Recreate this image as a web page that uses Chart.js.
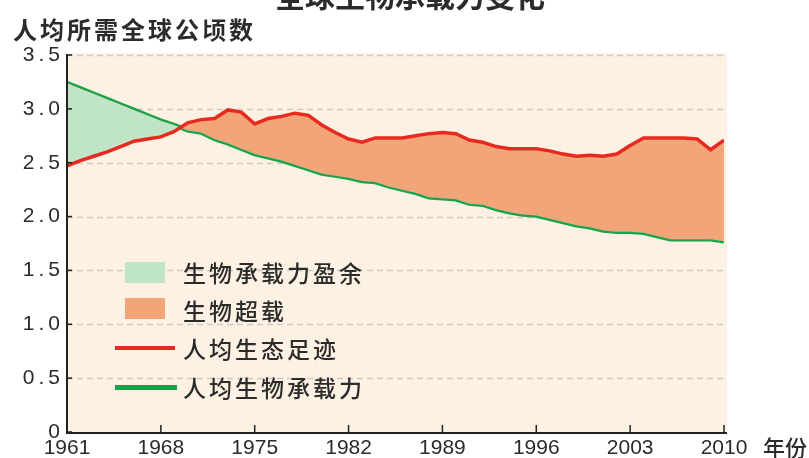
<!DOCTYPE html>
<html>
<head>
<meta charset="utf-8">
<script src="https://cdn.jsdelivr.net/npm/chart.js"></script>
<style>
  body { margin: 0; background: #fff; }
  #wrap { position: relative; width: 809px; height: 458px; overflow: hidden; }
  .t { position: absolute; font-family: "Noto Sans CJK SC", sans-serif; color: #2b2b2b; white-space: nowrap; }
  .sw { position: absolute; }
</style>
</head>
<body>
<div id="wrap">
  <canvas id="myChart" width="809" height="458"></canvas>
  <div class="t" style="left:0;width:820px;text-align:center;top:-24px;font-size:30px;font-weight:bold;line-height:36px;">全球生物承载力变化</div>
  <div class="t" style="left:13px;top:13px;font-size:24px;font-weight:bold;letter-spacing:3px;line-height:32px;">人均所需全球公顷数</div>
  <div class="t" style="left:763px;top:431px;font-size:22px;font-weight:500;line-height:30px;">年份</div>

  <div class="sw" style="left:125px;top:262px;width:40px;height:21px;background:#bfe5c6;"></div>
  <div class="t" style="left:183px;top:256px;font-size:23px;font-weight:500;line-height:32px;letter-spacing:3px;">生物承载力盈余</div>
  <div class="sw" style="left:125px;top:298px;width:40px;height:21px;background:#f3a57a;"></div>
  <div class="t" style="left:183px;top:294px;font-size:23px;font-weight:500;line-height:32px;letter-spacing:3px;">生物超载</div>
  <div class="sw" style="left:115px;top:346px;width:60px;height:4px;background:#e8291f;"></div>
  <div class="t" style="left:183px;top:332px;font-size:23px;font-weight:500;line-height:32px;letter-spacing:3px;">人均生态足迹</div>
  <div class="sw" style="left:115px;top:385px;width:62px;height:5px;background:#19a247;"></div>
  <div class="t" style="left:183px;top:371px;font-size:23px;font-weight:500;line-height:32px;letter-spacing:3px;">人均生物承载力</div>
</div>
<script>
// years 1961 - 2010
const years = Array.from({length: 50}, (_, i) => 1961 + i)

// 人均生态足迹 (global hectares per person)
const footprint = [
  2.47, 2.52, 2.56, 2.60, 2.65, 2.70, 2.72, 2.74, 2.79, 2.87,
  2.90, 2.91, 2.99, 2.97, 2.86, 2.91, 2.93, 2.96, 2.94, 2.85,
  2.78, 2.72, 2.69, 2.73, 2.73, 2.73, 2.75, 2.77, 2.78, 2.77,
  2.71, 2.69, 2.65, 2.63, 2.63, 2.63, 2.61, 2.58, 2.56, 2.57,
  2.56, 2.58, 2.66, 2.73, 2.73, 2.73, 2.73, 2.72, 2.62, 2.71
]

// 人均生物承载力
const biocapacity = [
  3.24, 3.19, 3.14, 3.09, 3.04, 2.99, 2.94, 2.89, 2.85, 2.80,
  2.78, 2.72, 2.68, 2.63, 2.58, 2.55, 2.52, 2.48, 2.44, 2.40,
  2.38, 2.36, 2.33, 2.32, 2.28, 2.25, 2.22, 2.18, 2.17, 2.16,
  2.12, 2.11, 2.07, 2.04, 2.02, 2.01, 1.98, 1.95, 1.92, 1.90,
  1.87, 1.86, 1.86, 1.85, 1.82, 1.79, 1.79, 1.79, 1.79, 1.77
]

const yTicks = [0, 0.5, 1.0, 1.5, 2.0, 2.5, 3.0, 3.5]
const xTicks = [1961, 1968, 1975, 1982, 1989, 1996, 2003, 2010]

const toPoints = (vals) => vals.map((v, i) => ({x: years[i], y: v}))

// cream plot background, dashed grid, axis lines and inward tick marks
const frame = {
  id: 'frame',
  beforeDraw: (chart) => {
    const ctx = chart.ctx
    const a = chart.chartArea
    const ys = chart.scales.y
    ctx.save()
    ctx.fillStyle = '#fcf1e2'
    ctx.fillRect(a.left, a.top - 2, a.right - a.left + 3, a.bottom - a.top + 2)
    ctx.strokeStyle = '#cfc9c1'
    ctx.lineWidth = 1.5
    ctx.setLineDash([6, 4])
    yTicks.forEach(v => {
      if (v === 0) return
      const y = Math.round(ys.getPixelForValue(v)) + 0.5
      ctx.beginPath()
      ctx.moveTo(a.left, y)
      ctx.lineTo(a.right, y)
      ctx.stroke()
    })
    ctx.restore()
  },
  afterDatasetsDraw: (chart) => {
    const ctx = chart.ctx
    const a = chart.chartArea
    const xs = chart.scales.x
    const ys = chart.scales.y
    ctx.save()
    ctx.strokeStyle = '#222'
    ctx.lineWidth = 2
    ctx.beginPath()
    ctx.moveTo(a.left, a.top - 1)
    ctx.lineTo(a.left, a.bottom + 1)
    ctx.lineTo(a.right + 3, a.bottom + 1)
    ctx.stroke()
    ctx.lineWidth = 1.5
    yTicks.forEach(v => {
      const y = ys.getPixelForValue(v)
      ctx.beginPath()
      ctx.moveTo(a.left, y)
      ctx.lineTo(a.left + 5, y)
      ctx.stroke()
    })
    xTicks.forEach(v => {
      const x = xs.getPixelForValue(v)
      ctx.beginPath()
      ctx.moveTo(x, a.bottom)
      ctx.lineTo(x, a.bottom - 7)
      ctx.stroke()
    })
    ctx.restore()
    // wide spacing for the y tick labels (drawn after datasets, z: 1)
    ctx.letterSpacing = '4px'
  },
  afterDraw: (chart) => {
    chart.ctx.letterSpacing = '0px'
  }
}

const data = {
  datasets: [{
    label: '人均生态足迹',
    data: toPoints(footprint),
    borderColor: '#e8291f',
    borderWidth: 3.5,
    pointRadius: 0,
    tension: 0,
    fill: {
      target: 1,
      above: '#f3a57a',
      below: '#bfe5c6'
    }
  }, {
    label: '人均生物承载力',
    data: toPoints(biocapacity),
    borderColor: '#19a247',
    borderWidth: 4.5,
    pointRadius: 0,
    tension: 0,
    fill: false
  }]
}

const config = {
  type: 'line',
  data,
  options: {
    responsive: false,
    animation: false,
    layout: {
      padding: {top: 55, right: 85, bottom: 0, left: 0}
    },
    plugins: {
      legend: {display: false},
      tooltip: {enabled: false},
      title: {display: false}
    },
    scales: {
      x: {
        type: 'linear',
        min: 1961,
        max: 2010,
        grid: {display: false, drawTicks: false},
        border: {display: false},
        afterBuildTicks: (scale) => {
          scale.ticks = xTicks.map(v => ({value: v}))
        },
        afterFit: (scale) => { scale.height = 26 },
        ticks: {
          padding: 4,
          maxRotation: 0,
          autoSkip: false,
          color: '#2b2b2b',
          font: {family: 'Liberation Sans', size: 21},
          callback: (v) => String(v)
        }
      },
      y: {
        min: 0,
        max: 3.5,
        grid: {display: false, drawTicks: false},
        border: {display: false},
        afterBuildTicks: (scale) => {
          scale.ticks = yTicks.map(v => ({value: v}))
        },
        afterFit: (scale) => { scale.width = 67 },
        ticks: {
          z: 1,
          padding: 3,
          color: '#2b2b2b',
          font: {family: 'Liberation Sans', size: 21},
          callback: (v) => v === 0 ? '0' : v.toFixed(1)
        }
      }
    }
  },
  plugins: [frame]
}

const myChart = new Chart(
  document.getElementById('myChart'),
  config
)
</script>
</body>
</html>
